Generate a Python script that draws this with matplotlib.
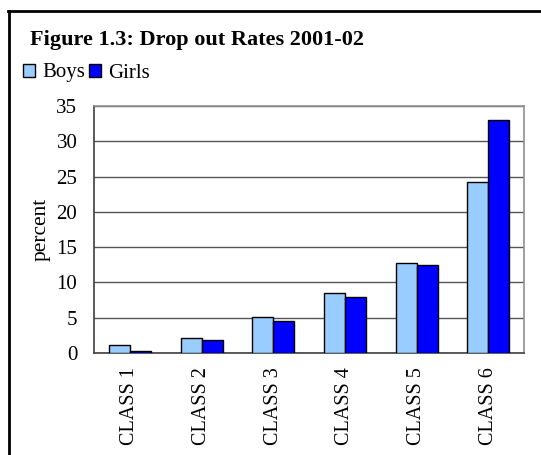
import matplotlib.pyplot as plt
import numpy as np
from matplotlib.lines import Line2D

plt.rcParams['font.family'] = ['Liberation Serif', 'DejaVu Serif']

clases = ['CLASS 1', 'CLASS 2', 'CLASS 3', 'CLASS 4', 'CLASS 5', 'CLASS 6']
boys = [1.1, 2.1, 5.1, 8.5, 12.8, 24.2]
girls = [0.3, 1.9, 4.5, 8.0, 12.5, 33.0]

fig = plt.figure(figsize=(5.41, 4.55), dpi=100)
ax = fig.add_axes([0.1738, 0.2242, 0.7948, 0.5428])

x = np.arange(len(clases))
w = 0.293
ax.bar(x - w/2, boys, w, color='#99CCFF', edgecolor='black', linewidth=1, label='Boys', zorder=3)
ax.bar(x + w/2, girls, w, color='#0000FF', edgecolor='black', linewidth=1, label='Girls', zorder=3)

ax.set_xlim(-0.5, len(clases) - 0.5)
ax.set_ylim(0, 35)
ax.set_yticks(range(0, 36, 5))
ax.set_xticks(x)
ax.set_xticklabels(clases, rotation=90)
ax.tick_params(axis='both', length=0, labelsize=15)
ax.tick_params(axis='x', labelsize=14.5, pad=10)
ax.tick_params(axis='y', pad=12)
ax.yaxis.grid(True, color='#555555', linewidth=1, zorder=0)
ax.set_axisbelow(True)
ax.set_ylabel('percent', fontsize=15.4, labelpad=4)

for s in ['top', 'right']:
    ax.spines[s].set_color('#909090')
for s in ['left', 'bottom']:
    ax.spines[s].set_color('#404040')
for s in ax.spines.values():
    s.set_linewidth(1.2)

# marco exterior
fig.add_artist(Line2D([8/541, 1], [1 - 11/455, 1 - 11/455], color='black', linewidth=2))
fig.add_artist(Line2D([9/541, 9/541], [0, 1 - 11/455], color='black', linewidth=2))

fig.text(30/541, 1 - 40/455, 'Figure 1.3: Drop out Rates 2001-02', fontsize=16,
         fontweight='bold', va='center', ha='left')
fig.legend(loc='center left', bbox_to_anchor=(23/541, 1 - 73/455), ncol=2, frameon=False,
           fontsize=15, handlelength=0.58, handleheight=0.58, handletextpad=0.34,
           columnspacing=0.19, borderpad=0, borderaxespad=0)

fig.savefig('out.png', dpi=100)
